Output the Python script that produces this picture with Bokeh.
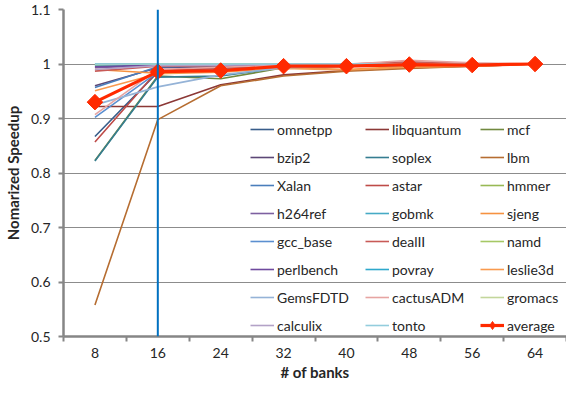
from bokeh.plotting import figure
from bokeh.models import Range1d, FixedTicker, CustomJSTickFormatter, Span, Legend, LegendItem
from bokeh.embed import file_html
from bokeh.resources import INLINE
from math import pi

# ---------------- data ----------------
banks = [8, 16, 24, 32, 40, 48, 56, 64]
highlight_banks = 16
y_ticks = [0.5, 0.6, 0.7, 0.8, 0.9, 1.0, 1.1]

benchmarks = ["omnetpp", "libquantum", "mcf", "bzip2", "soplex", "lbm",
              "Xalan", "astar", "hmmer", "h264ref", "gobmk", "sjeng",
              "gcc_base", "dealII", "namd", "perlbench", "povray", "leslie3d",
              "GemsFDTD", "cactusADM", "gromacs", "calculix", "tonto"]

omnetpp    = [0.867, 0.985, 0.992, 0.997, 0.998, 0.999, 0.999, 1.0]
libquantum = [0.922, 0.922, 0.962, 0.980, 0.988, 0.993, 0.996, 1.0]
mcf        = [0.823, 0.978, 0.973, 0.993, 0.996, 0.997, 0.998, 1.0]
bzip2      = [0.960, 0.993, 0.995, 0.998, 0.998, 0.999, 1.0, 1.0]
soplex     = [0.822, 0.976, 0.978, 0.994, 0.996, 0.998, 0.999, 1.0]
lbm        = [0.558, 0.898, 0.960, 0.978, 0.987, 0.992, 0.996, 1.0]
Xalan      = [0.957, 0.995, 0.996, 0.998, 0.999, 0.999, 1.0, 1.0]
astar      = [0.857, 0.988, 0.993, 0.997, 0.998, 1.002, 0.999, 1.0]
hmmer      = [0.998, 0.999, 0.999, 1.0, 1.0, 1.0, 1.0, 1.0]
h264ref    = [0.993, 0.997, 0.998, 0.999, 0.999, 1.0, 1.0, 1.0]
gobmk      = [0.997, 0.998, 0.999, 0.999, 1.0, 1.0, 1.0, 1.0]
sjeng      = [0.990, 0.983, 0.990, 0.994, 0.990, 0.996, 0.997, 1.0]
gcc_base   = [0.902, 0.985, 0.990, 0.996, 0.997, 0.998, 0.999, 1.0]
dealII     = [0.987, 0.996, 0.997, 0.999, 1.0, 1.004, 1.001, 1.0]
namd       = [0.999, 1.0, 1.0, 1.0, 1.0, 1.0, 1.0, 1.0]
perlbench  = [0.995, 0.998, 0.998, 0.999, 1.0, 1.0, 1.0, 1.0]
povray     = [1.0, 1.0, 1.0, 1.0, 1.0, 1.0, 1.0, 1.0]
leslie3d   = [0.951, 0.982, 0.985, 0.992, 0.989, 0.994, 0.996, 1.0]
GemsFDTD   = [0.925, 0.958, 0.980, 0.993, 0.996, 0.998, 0.999, 1.0]
cactusADM  = [0.907, 0.990, 0.994, 0.998, 0.999, 1.007, 1.002, 1.0]
gromacs    = [0.999, 1.0, 1.0, 1.0, 1.0, 1.0, 1.0, 1.0]
calculix   = [0.990, 0.997, 0.998, 0.999, 1.0, 1.0, 1.0, 1.0]
tonto      = [1.0, 1.0, 1.0, 1.0, 1.0, 1.0, 1.0, 1.0]
average    = [0.930, 0.986, 0.988, 0.996, 0.996, 0.999, 0.998, 1.0]

series_values = [omnetpp, libquantum, mcf, bzip2, soplex, lbm,
                 Xalan, astar, hmmer, h264ref, gobmk, sjeng,
                 gcc_base, dealII, namd, perlbench, povray, leslie3d,
                 GemsFDTD, cactusADM, gromacs, calculix, tonto]

colors = ["#385D8A", "#8C3836", "#71893F", "#5C4776", "#357D91", "#B66D31",
          "#4A7EBB", "#BE4B48", "#98B954", "#7D60A0", "#46AAC5", "#F69240",
          "#5B8FD0", "#C85A57", "#A6C865", "#6F4A9E", "#2EA8CC", "#F99A4E",
          "#95B3D7", "#E6A4A2", "#C3D69B", "#B3A2C7", "#93CDDD"]
average_color = "#FF2A00"

FONT = "Lato"
TEXT = "#262626"
GRID = "#8C8C8C"
AXIS = "#868686"

# ---------------- figure ----------------
p = figure(width=566, height=387, output_backend="svg", toolbar_location=None,
           x_range=Range1d(banks[0] - 4, banks[-1] + 4), y_range=Range1d(y_ticks[0], y_ticks[-1]),
           min_border_left=58, min_border_right=0, min_border_top=9, min_border_bottom=51)
p.outline_line_color = None
p.background_fill_color = "white"
p.border_fill_color = "white"

items = []
for name, vals, col in zip(benchmarks, series_values, colors):
    r = p.line(banks, vals, line_color=col, line_width=1.6)
    items.append(LegendItem(label=name, renderers=[r]))

ra = p.line(banks, average, line_color=average_color, line_width=3.2)
rm = p.scatter(banks, average, marker="square", angle=pi / 4, size=11,
               fill_color=average_color, line_color=average_color)
# legend-only proxy marker (small diamond, as in the reference legend); not visible in the plot
rl = p.scatter(x=[banks[0]], y=[float("nan")], marker="diamond", size=10,
               fill_color=average_color, line_color=average_color)
items.append(LegendItem(label="average", renderers=[ra, rl]))

p.add_layout(Span(location=highlight_banks, dimension="height",
                  line_color="#0070C0", line_width=2))

# ---------------- axes ----------------
xa = p.xaxis[0]
xa.ticker = FixedTicker(ticks=banks, minor_ticks=[b - 4 for b in banks] + [banks[-1] + 4])
xa.major_tick_line_color = None
xa.major_tick_out = 5
xa.major_tick_in = 0
xa.minor_tick_line_color = AXIS
xa.minor_tick_line_width = 2
xa.minor_tick_out = 5
xa.minor_tick_in = 0
xa.axis_line_color = AXIS
xa.axis_line_width = 2.5
xa.major_label_standoff = 6
xa.major_label_text_font = FONT
xa.major_label_text_font_size = "14px"
xa.major_label_text_color = TEXT
xa.axis_label = "# of banks"
xa.axis_label_text_font = FONT
xa.axis_label_text_font_style = "bold"
xa.axis_label_text_font_size = "15px"
xa.axis_label_text_color = TEXT
xa.axis_label_standoff = 2

ya = p.yaxis[0]
ya.ticker = FixedTicker(ticks=y_ticks, minor_ticks=[])
ya.formatter = CustomJSTickFormatter(code="return String(parseFloat(tick.toFixed(1)));")
ya.major_tick_line_color = AXIS
ya.major_tick_line_width = 2
ya.major_tick_out = 5
ya.major_tick_in = 0
ya.minor_tick_line_color = None
ya.axis_line_color = AXIS
ya.axis_line_width = 2.5
ya.major_label_standoff = 8
ya.major_label_text_font = FONT
ya.major_label_text_font_size = "14px"
ya.major_label_text_color = TEXT
ya.axis_label = "Nomarized Speedup"
ya.axis_label_text_font = FONT
ya.axis_label_text_font_style = "bold"
ya.axis_label_text_font_size = "15px"
ya.axis_label_text_color = TEXT
ya.axis_label_standoff = 6

p.xgrid.grid_line_color = None
p.ygrid.grid_line_color = GRID
p.ygrid.grid_line_width = 1.2

# ---------------- legend ----------------
legend = Legend(items=items, location=(187, 1), orientation="horizontal", ncols=3,
                background_fill_alpha=0, border_line_color=None,
                padding=0, margin=0, spacing=8,
                glyph_width=24, glyph_height=20, label_height=20,
                label_standoff=3, label_width=80,
                label_text_font=FONT, label_text_font_size="14px",
                label_text_color=TEXT)
p.add_layout(legend)

open("out.html", "w").write(file_html(p, INLINE))
